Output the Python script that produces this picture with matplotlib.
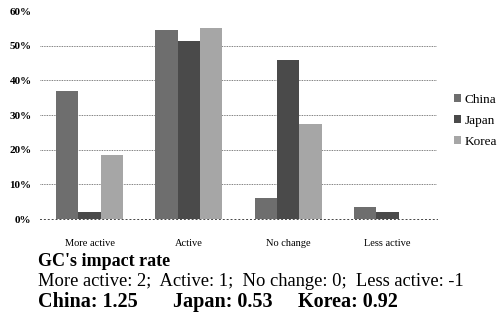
import matplotlib
matplotlib.use("Agg")
import matplotlib.pyplot as plt
import numpy as np
from matplotlib.patches import Patch

categories = ["More active", "Active", "No change", "Less active"]
series_names = ["China", "Japan", "Korea"]
china = [37, 54.5, 6, 3.5]
japan = [2, 51.5, 46, 2]
korea = [18.5, 55, 27.5, 0]
y_ticks = [0, 10, 20, 30, 40, 50, 60]
y_tick_labels = ["0%", "10%", "20%", "30%", "40%", "50%", "60%"]
colors = ["#6e6e6e", "#4a4a4a", "#a6a6a6"]
note_title = "GC's impact rate"
note_scale = "More active: 2;  Active: 1;  No change: 0;  Less active: -1"
rate_labels = ["China: 1.25", "Japan: 0.53", "Korea: 0.92"]

plt.rcParams["font.family"] = ["Liberation Serif", "DejaVu Serif"]

fig = plt.figure(figsize=(4.99, 3.27), dpi=100)
ax = fig.add_axes([0.080, 0.330, 0.796, 0.636])

x = np.arange(len(categories))
w = 0.225
for i, (vals, c) in enumerate(zip([china, japan, korea], colors)):
    ax.bar(x + (i - 1) * w, vals, width=w, color=c, edgecolor="none", zorder=3)

ax.set_xlim(-0.5, len(categories) - 0.5)
ax.set_ylim(0, 60)
ax.set_yticks(y_ticks)
ax.set_yticklabels(y_tick_labels, fontsize=8, fontweight="bold")
ax.set_xticks(x)
ax.set_xticklabels(categories, fontsize=7.5)
ax.tick_params(length=0, pad=6)
ax.tick_params(axis="x", pad=14)
for s in ["top", "right", "left"]:
    ax.spines[s].set_visible(False)
ax.spines["bottom"].set_linestyle((0, (1, 3)))
ax.spines["bottom"].set_linewidth(0.7)
ax.spines["bottom"].set_color("#444444")
for t in y_ticks[1:-1]:
    ax.axhline(t, color="#555555", lw=0.6, ls=(0, (1, 1)), zorder=1)

handles = [Patch(facecolor=c, edgecolor="none") for c in colors]
fig.legend(handles, series_names, loc="center left", bbox_to_anchor=(0.897, 0.63),
           frameon=False, fontsize=9.5, handlelength=0.55, handleheight=0.55,
           handletextpad=0.25, labelspacing=0.68, borderpad=0)

fig.text(0.077, 0.1865, note_title, fontsize=13, fontweight="bold", va="baseline")
fig.text(0.077, 0.1255, note_scale, fontsize=13.3, va="baseline")
for xpos, lab in zip([0.077, 0.347, 0.597], rate_labels):
    fig.text(xpos, 0.062, lab, fontsize=14.5, fontweight="bold", va="baseline")

fig.savefig("out.png", dpi=100)
